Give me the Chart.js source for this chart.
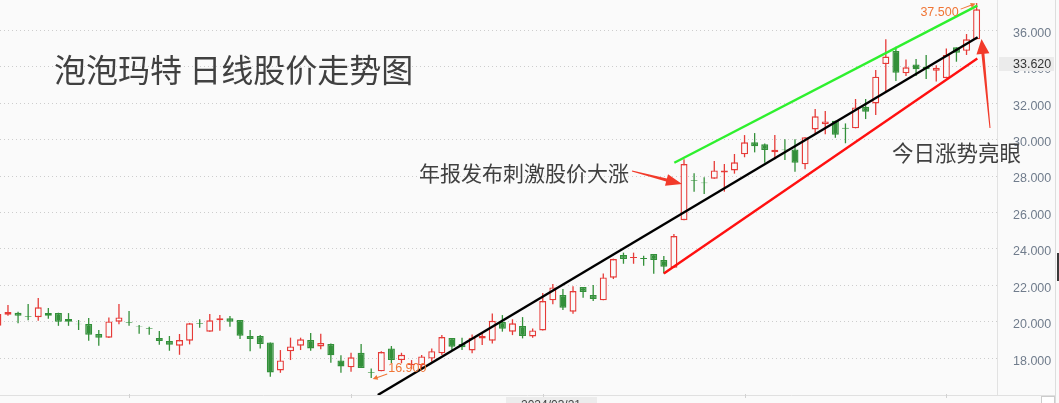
<!DOCTYPE html>
<html>
<head>
<meta charset="utf-8">
<script src="https://cdn.jsdelivr.net/npm/chart.js@4.4.1/dist/chart.umd.min.js"></script>
<style>
  html, body { margin: 0; padding: 0; background: #fafafa; }
  #wrap { width: 1059px; height: 403px; position: relative; }
</style>
</head>
<body>
<div id="wrap"><canvas id="kChart"></canvas></div>
<script>
// daily candles, index 0 is the half-hidden one at the left edge
const opens = [
  19.77, 20.38, 20.49, 20.31, 20.24, 20.47, 20.47, 20.14, 19.89, 19.87,
  19.32, 19.12, 20.00, 19.98, 19.74, 19.65, 19.10, 18.93, 18.68, 18.95,
  19.91, 19.45, 20.07, 20.18, 20.09, 19.21, 19.21, 18.86, 17.32, 18.37,
  18.68, 18.99, 18.64, 18.77, 17.87, 17.49, 18.29, 17.23, 17.27, 18.53,
  17.89, 17.62, 17.60, 17.97, 18.26, 19.10, 18.77, 18.42, 19.08, 18.95,
  19.98, 19.45, 19.76, 19.19, 19.52, 21.17, 21.46, 20.55, 21.90, 21.46,
  21.17, 22.41, 23.66, 23.50, 23.50, 23.71, 23.38, 22.96, 25.57, 27.77,
  27.65, 27.85, 28.20, 28.31, 29.19, 29.85, 29.74, 29.30, 29.46, 29.46,
  28.64, 30.56, 30.84, 31.04, 30.65, 30.62, 31.80, 31.99, 34.15, 34.87,
  33.64, 34.13, 34.00, 33.79, 33.37, 35.07, 34.88, 35.51
];
const highs = [
  20.50, 20.91, 20.54, 20.97, 21.30, 20.75, 20.49, 20.47, 20.09, 20.20,
  19.54, 20.23, 20.97, 20.58, 19.82, 19.72, 19.48, 19.21, 19.32, 19.93,
  20.13, 20.42, 20.36, 20.31, 20.09, 19.54, 19.27, 18.86, 18.44, 19.12,
  19.12, 19.37, 19.34, 18.80, 18.15, 18.29, 18.77, 17.43, 18.37, 18.66,
  18.29, 17.89, 18.17, 18.53, 19.27, 19.10, 19.12, 19.29, 19.36, 20.45,
  20.36, 20.13, 20.25, 19.63, 21.57, 22.07, 21.79, 21.95, 21.90, 22.01,
  22.65, 23.46, 23.79, 23.79, 23.62, 23.71, 23.60, 24.81, 28.92, 28.15,
  27.93, 28.82, 28.66, 29.21, 30.25, 30.36, 29.78, 30.25, 30.02, 30.02,
  30.13, 31.68, 31.57, 31.04, 30.89, 32.23, 32.23, 33.82, 35.51, 35.10,
  34.40, 34.43, 34.65, 34.09, 35.01, 35.07, 35.80, 37.50
];
const lows = [
  19.70, 20.32, 19.91, 20.07, 20.05, 20.16, 19.77, 19.77, 19.54, 18.95,
  18.68, 19.10, 19.85, 19.77, 19.34, 19.28, 18.73, 18.40, 18.18, 18.75,
  19.67, 19.45, 19.50, 19.72, 19.04, 18.38, 18.53, 16.97, 17.19, 17.89,
  18.44, 18.40, 18.49, 17.74, 17.19, 17.25, 17.45, 16.90, 17.27, 17.72,
  17.71, 17.40, 17.45, 17.80, 18.17, 18.44, 18.44, 18.26, 18.71, 18.80,
  19.45, 19.26, 19.08, 19.12, 19.52, 20.95, 20.64, 20.44, 21.31, 21.13,
  21.17, 22.34, 23.18, 23.18, 23.07, 22.63, 22.65, 22.96, 25.57, 27.14,
  27.01, 27.85, 27.14, 28.13, 29.03, 29.30, 28.73, 28.92, 28.88, 28.24,
  28.37, 30.35, 30.29, 30.10, 29.80, 30.62, 31.13, 31.35, 32.63, 33.22,
  33.50, 33.50, 33.33, 33.19, 33.37, 34.28, 34.65, 35.51
];
const closes = [
  20.42, 20.53, 20.32, 20.27, 20.79, 20.32, 19.99, 19.99, 19.85, 19.28,
  19.12, 20.01, 20.23, 19.94, 19.70, 19.61, 18.93, 18.73, 18.99, 19.91,
  19.87, 20.07, 20.18, 19.99, 19.23, 19.04, 18.77, 17.21, 17.87, 18.64,
  19.03, 18.53, 18.82, 18.15, 17.54, 18.04, 17.45, 17.19, 18.33, 17.89,
  18.18, 17.68, 18.09, 18.38, 19.15, 18.62, 18.59, 19.12, 19.21, 20.05,
  19.61, 19.91, 19.21, 19.52, 21.13, 21.88, 20.77, 21.68, 21.63, 21.24,
  22.43, 23.44, 23.44, 23.55, 23.44, 23.38, 23.02, 24.70, 28.66, 27.72,
  27.60, 28.31, 28.31, 28.75, 29.85, 29.63, 29.43, 29.45, 29.42, 28.73,
  30.13, 31.28, 31.00, 30.27, 30.60, 31.77, 31.53, 33.46, 34.56, 33.68,
  33.97, 33.86, 33.86, 33.95, 34.65, 34.77, 35.51, 37.16
];
const yTicks = [18, 20, 22, 24, 26, 28, 30, 32, 34, 36];
const monthTicks = [13, 35, 54, 74, 94];

// hand drawn trend lines (index, price)
const blackLine = [{ x: 37.65, y: 15.97 }, { x: 97.1, y: 35.62 }];
const redLine = [{ x: 66.0, y: 22.65 }, { x: 97.07, y: 34.45 }];
const greenLine = [{ x: 67.04, y: 28.73 }, { x: 97.07, y: 37.36 }];

const UP = "#e63b38";
const DOWN = "#33903a";
const BG = "#fafafa";

const isUp = closes.map((c, i) => c >= opens[i]);
const bodies = closes.map((c, i) => ({ x: i, y: [Math.min(c, opens[i]), Math.max(c, opens[i])] }));
const wicks = closes.map((c, i) => ({ x: i, y: [lows[i], highs[i]] }));

function arrow(ctx, x1, y1, x2, y2, color, shaft, headW, headL) {
  const len = Math.hypot(x2 - x1, y2 - y1);
  const ux = (x2 - x1) / len, uy = (y2 - y1) / len;
  const nx = -uy, ny = ux;
  const bx = x2 - ux * headL, by = y2 - uy * headL;
  ctx.beginPath();
  ctx.moveTo(x1 + nx * 0.5, y1 + ny * 0.5);
  ctx.lineTo(bx + nx * shaft / 2, by + ny * shaft / 2);
  ctx.lineTo(bx + nx * headW / 2, by + ny * headW / 2);
  ctx.lineTo(x2, y2);
  ctx.lineTo(bx - nx * headW / 2, by - ny * headW / 2);
  ctx.lineTo(bx - nx * shaft / 2, by - ny * shaft / 2);
  ctx.lineTo(x1 - nx * 0.5, y1 - ny * 0.5);
  ctx.closePath();
  ctx.fillStyle = color;
  ctx.fill();
}

function text(ctx, str, x, y, font, color, align) {
  ctx.font = font;
  ctx.fillStyle = color;
  ctx.textAlign = align || "left";
  ctx.textBaseline = "middle";
  ctx.fillText(str, x, y);
}

const extras = {
  id: "extras",
  afterDraw(chart) {
    const ctx = chart.ctx;
    const xs = chart.scales.x, ys = chart.scales.y;
    const area = chart.chartArea;
    ctx.save();

    // bottom rule + month ticks
    ctx.strokeStyle = "#e0e0e0";
    ctx.lineWidth = 1;
    ctx.beginPath();
    ctx.moveTo(0, area.bottom + 0.5);
    ctx.lineTo(1055, area.bottom + 0.5);
    ctx.stroke();
    ctx.strokeStyle = "#d2d2d2";
    monthTicks.forEach(i => {
      const px = Math.round(xs.getPixelForValue(i)) + 0.5;
      ctx.beginPath();
      ctx.moveTo(px, area.bottom - 1);
      ctx.lineTo(px, area.bottom + 3);
      ctx.stroke();
    });

    // date box peeking at the bottom
    ctx.fillStyle = "#ececec";
    ctx.fillRect(506, 397, 91, 10);
    text(ctx, "2024/03/21", 551, 406, "12px 'Liberation Sans'", "#444", "center");

    // highest / lowest price markers
    const orange = "#f07535";
    let hi = 0, lo = 0;
    highs.forEach((v, i) => { if (v > highs[hi]) hi = i; });
    lows.forEach((v, i) => { if (v < lows[lo]) lo = i; });
    const hx = xs.getPixelForValue(hi), hy = ys.getPixelForValue(highs[hi]);
    arrow(ctx, hx - 16, hy + 6, hx - 1, hy + 0.5, orange, 1, 5, 5);
    text(ctx, highs[hi].toFixed(3), hx - 18, hy + 9, "12.5px 'Liberation Sans'", orange, "right");
    const lx = xs.getPixelForValue(lo), ly = ys.getPixelForValue(lows[lo]);
    arrow(ctx, lx + 16, ly - 4, lx + 1.5, ly + 1, orange, 1, 5, 5);
    text(ctx, lows[lo].toFixed(3), lx + 17, ly - 9.5, "12.5px 'Liberation Sans'", orange, "left");

    // price box on the axis
    ctx.fillStyle = "#ebebeb";
    ctx.fillRect(999, 57, 55, 14);
    text(ctx, "33.620", 1013, 64.5, "12.5px 'Liberation Sans'", "#333", "left");

    // titles and notes
    const cjk = "'Noto Sans CJK SC', 'Noto Sans', sans-serif";
    text(ctx, "泡泡玛特 日线股价走势图", 54, 70, "32px " + cjk, "#404040");
    text(ctx, "年报发布刺激股价大涨", 419, 173, "21px " + cjk, "#404040");
    text(ctx, "今日涨势亮眼", 892, 153, "21.5px " + cjk, "#404040");
    arrow(ctx, 632, 171, 682, 184, "#f23a2a", 3, 12, 16);
    arrow(ctx, 990, 128, 981.5, 39, "#f23a2a", 3, 13, 15);

    // scrollbar strip on the right
    ctx.fillStyle = "#dddddd";
    ctx.fillRect(1055, 0, 1, 403);
    ctx.fillStyle = "#3a3a3a";
    ctx.fillRect(1057, 253, 2, 28);
    ctx.fillStyle = "#ffffff";
    ctx.fillRect(1041, 396, 14, 7);
    ctx.strokeStyle = "#cccccc";
    ctx.strokeRect(1041.5, 396.5, 13, 8);

    ctx.restore();
  }
};

new Chart(document.getElementById("kChart").getContext("2d"), {
  type: "bar",
  data: {
    datasets: [
      { type: "line", data: greenLine, borderColor: "#2ef02e", borderWidth: 2.4, pointRadius: 0, order: 0 },
      { type: "line", data: redLine, borderColor: "#ff1010", borderWidth: 2.4, pointRadius: 0, order: 0 },
      { type: "line", data: blackLine, borderColor: "#000000", borderWidth: 2.4, pointRadius: 0, order: 0 },
      {
        data: bodies,
        backgroundColor: isUp.map(u => (u ? BG : DOWN)),
        borderColor: isUp.map(u => (u ? UP : DOWN)),
        borderWidth: 1.4,
        borderSkipped: false,
        barThickness: 7,
        grouped: false,
        inflateAmount: 0,
        order: 1,
      },
      {
        data: wicks,
        backgroundColor: isUp.map(u => (u ? UP : DOWN)),
        borderWidth: 0,
        barThickness: 1.3,
        grouped: false,
        inflateAmount: 0,
        order: 2,
      },
    ],
  },
  options: {
    responsive: true,
    maintainAspectRatio: false,
    animation: false,
    layout: { padding: { bottom: 8 } },
    plugins: {
      legend: { display: false },
      tooltip: { enabled: false },
    },
    scales: {
      x: { type: "linear", min: 0.21, max: 99.02, offset: false, display: false },
      y: {
        position: "right",
        min: 15.97,
        max: 37.67,
        beginAtZero: false,
        afterBuildTicks: s => { s.ticks = yTicks.map(v => ({ value: v })); },
        afterFit: s => { s.width = 62; s.paddingTop = 0; s.paddingBottom = 0; },
        grid: { color: "#cdcdcd", drawTicks: false },
        border: { display: true, color: "#e2e2e2", dash: [1, 3] },
        ticks: {
          padding: 16,
          labelOffset: 3,
          autoSkip: false,
          color: "#707c8c",
          font: { family: "Liberation Sans", size: 12.5 },
          callback: v => v.toFixed(3),
        },
      },
    },
  },
  plugins: [extras],
});
</script>
</body>
</html>
